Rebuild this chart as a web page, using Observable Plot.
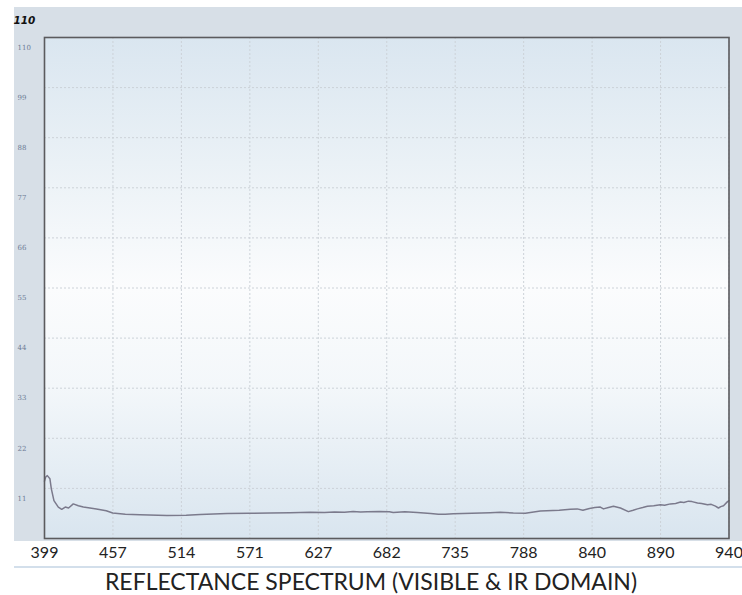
<!DOCTYPE html>
<html>
<head>
<meta charset="utf-8">
<script src="https://cdn.jsdelivr.net/npm/d3@7"></script>
<script src="https://cdn.jsdelivr.net/npm/@observablehq/plot@0.6"></script>
<style>
  body { margin: 0; background: #ffffff; }
  #wrap { position: relative; width: 742px; height: 595px; overflow: hidden; }
  #panel { position: absolute; left: 14px; top: 7px; width: 728px; height: 534px; background: #d7dfe7; }
  #strip { position: absolute; left: 14px; top: 566px; width: 728px; height: 2px; background: #d3dfeb; }
  #chart { position: absolute; left: 0; top: 0; }
  #title { position: absolute; left: 0; top: 568px; width: 742px; height: 27px; text-align: center;
           font-family: Lato, "Open Sans", sans-serif; font-size: 23px; line-height: 27px; color: #222; }
</style>
</head>
<body>
<div id="wrap">
  <div id="panel"></div>
  <div id="strip"></div>
  <div id="chart"></div>
  <div id="title">REFLECTANCE SPECTRUM (VISIBLE &amp; IR DOMAIN)</div>
</div>
<script>
// Tick labels (wavelength, nm) – evenly spaced on the original chart
const xTicks = [399, 457, 514, 571, 627, 682, 735, 788, 840, 890, 940];
const yTicks = [11, 22, 33, 44, 55, 66, 77, 88, 99, 110];
const yMaxLabel = ["110"];

// Reflectance spectrum
const wavelengths = [399, 400, 401.4, 403.6, 404.8, 407, 410.7, 413.6, 416.6, 419.4, 423.4, 427.7, 431.9, 437.5, 443, 451.3, 456.8, 467.3, 479.6, 502, 518, 529.6, 552, 570, 587.6, 604, 620.4, 632, 640, 648, 655, 661, 666.3, 676, 684, 687, 696, 705.6, 716, 722, 727.3, 733.5, 748, 762, 769.9, 780, 789.3, 800.7, 815, 823.5, 828.7, 833, 838, 842, 846, 848.3, 852, 855.6, 860.7, 866.5, 870, 873.1, 877, 880.4, 885, 889.9, 893, 897.2, 901, 904.6, 907, 910.4, 913, 917, 920, 924.3, 927, 930.1, 932.3, 934, 936, 938.9, 940];
const reflectance = [12.6, 13.5, 13.8, 13.1, 10.9, 8.3, 6.9, 6.4, 6.9, 6.7, 7.6, 7.2, 6.9, 6.7, 6.5, 6.1, 5.6, 5.3, 5.2, 5.05, 5.1, 5.25, 5.5, 5.55, 5.6, 5.65, 5.75, 5.7, 5.8, 5.75, 5.95, 5.8, 5.9, 5.95, 5.85, 5.7, 5.85, 5.7, 5.5, 5.35, 5.3, 5.45, 5.55, 5.65, 5.75, 5.6, 5.55, 6.05, 6.2, 6.4, 6.5, 6.2, 6.6, 6.8, 6.9, 6.5, 6.8, 7.1, 6.7, 5.9, 6.2, 6.5, 6.8, 7.1, 7.2, 7.4, 7.3, 7.6, 7.7, 8.0, 7.9, 8.2, 8.1, 7.8, 7.7, 7.4, 7.5, 7.1, 6.7, 7.0, 7.2, 8.1, 8.3];

const data = wavelengths.map((w, i) => ({w, r: reflectance[i]}));

const chart = Plot.plot({
  width: 742,
  height: 568,
  marginLeft: 44,
  marginRight: 13.5,
  marginTop: 37,
  marginBottom: 30,
  style: {background: "transparent", overflow: "visible"},
  x: {type: "linear", domain: xTicks, label: null},
  y: {type: "linear", domain: [0, 110], label: null},
  marks: [
    Plot.frame({fill: "url(#plotbg)", stroke: "none"}),
    Plot.gridX(xTicks, {stroke: "#ccd2d8", strokeOpacity: 1, strokeDasharray: "2,2"}),
    Plot.gridY(yTicks, {stroke: "#ccd2d8", strokeOpacity: 1, strokeDasharray: "2,2"}),
    Plot.line(data, {x: "w", y: "r", stroke: "#7b7a8c", strokeWidth: 1.5}),
    Plot.frame({stroke: "#5b5b5e", strokeWidth: 1.6}),
    Plot.axisX(xTicks, {tickSize: 0, tickPadding: 8, fontSize: 16, fill: "#222", label: null,
      fontFamily: "Lato, 'Open Sans', sans-serif", tickFormat: d => String(d)}),
    Plot.axisY(yTicks, {tickSize: 0, tickPadding: 0, textAnchor: "start", dx: -27, dy: 10, label: null,
      fontSize: 7, fill: "#6d7c96", fontFamily: "'DejaVu Serif', serif", tickFormat: d => String(d)}),
    Plot.text(yMaxLabel, {frameAnchor: "top-left", dx: -31, dy: -21, text: d => d, textAnchor: "start",
      fontSize: 10.5, fontWeight: "bold", fontStyle: "italic", fill: "#111",
      fontFamily: "'DejaVu Sans', sans-serif"})
  ]
});

// gradient definition for the plot-area background
const ns = "http://www.w3.org/2000/svg";
const defs = document.createElementNS(ns, "defs");
defs.innerHTML = `<linearGradient id="plotbg" x1="0" y1="0" x2="0" y2="1">
  <stop offset="0" stop-color="#dae6f0"/>
  <stop offset="0.25" stop-color="#eaf1f6"/>
  <stop offset="0.5" stop-color="#fbfcfd"/>
  <stop offset="0.7" stop-color="#f3f7fa"/>
  <stop offset="1" stop-color="#d9e5ef"/>
</linearGradient>`;
chart.insertBefore(defs, chart.firstChild);

document.getElementById("chart").appendChild(chart);
</script>
</body>
</html>
